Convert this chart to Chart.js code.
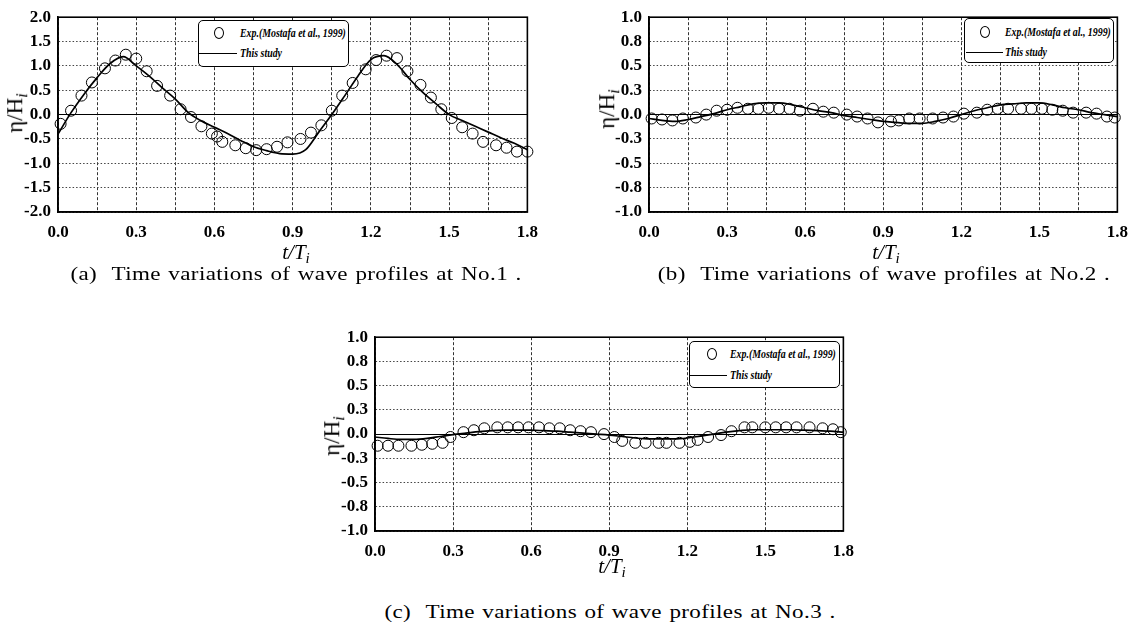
<!DOCTYPE html>
<html>
<head>
<meta charset="utf-8">
<script src="https://cdn.jsdelivr.net/npm/chart.js@4.4.1/dist/chart.umd.min.js"></script>
<style>
  html, body { margin: 0; padding: 0; background: #fff; }
  #page { position: relative; width: 1144px; height: 627px; overflow: hidden; font-family: "Liberation Serif", serif; color: #000; }
  canvas { position: absolute; }
  .lbl { position: absolute; transform: translate(-50%, -50%); white-space: nowrap; line-height: 1; }
  .ytitle { font-size: 23px; transform: translate(-50%, -50%) rotate(-90deg); }
  .xtitle { font-size: 21px; font-style: italic; }
  .lbl sub { font-size: 72%; vertical-align: -0.3em; font-style: italic; }
  .caption { font-size: 18px; letter-spacing: 0.3px; word-spacing: 1px; transform: translate(-50%, -50%) scaleX(1.28); }
  .lgbox { position: absolute; border: 1px solid #000; border-radius: 5px; background: #fff; box-sizing: border-box; }
  .lgmk { position: absolute; width: 8px; height: 10px; border: 1px solid #000; border-radius: 50%; transform: translate(-50%, -50%); }
  .lgln { position: absolute; height: 0; border-top: 1.5px solid #000; }
  .lgtx { position: absolute; font-style: italic; font-weight: bold; font-size: 12.5px; line-height: 1; white-space: nowrap;
          transform-origin: left center; transform: translateY(-50%) scaleX(0.79); }
</style>
</head>
<body>
<div id="page">
  <canvas id="chartA" width="548" height="245" style="left:0px;top:0px"></canvas>
  <canvas id="chartB" width="546" height="245" style="left:592px;top:0px"></canvas>
  <canvas id="chartC" width="547" height="245" style="left:317px;top:320px"></canvas>

  <div class="lbl ytitle" style="left:17px;top:113px">η/H<sub>i</sub></div>
  <div class="lbl xtitle" style="left:296px;top:254px">t/T<sub>i</sub></div>
  <div class="lbl caption" style="left:296px;top:274px">(a)&nbsp; Time variations of wave profiles at No.1 .</div>

  <div class="lbl ytitle" style="left:609px;top:109px">η/H<sub>i</sub></div>
  <div class="lbl xtitle" style="left:886px;top:254px">t/T<sub>i</sub></div>
  <div class="lbl caption" style="left:884px;top:274px">(b)&nbsp; Time variations of wave profiles at No.2 .</div>

  <div class="lbl ytitle" style="left:334px;top:436px">η/H<sub>i</sub></div>
  <div class="lbl xtitle" style="left:612px;top:568px">t/T<sub>i</sub></div>
  <div class="lbl caption" style="left:610px;top:612px">(c)&nbsp; Time variations of wave profiles at No.3 .</div>
</div>

<script>
// ---- measured points (Exp. Mostafa et al., 1999) ----
const expTimeA = [0.01,0.05,0.09,0.13,0.18,0.22,0.26,0.30,0.34,0.38,0.43,0.47,0.51,0.55,0.59,0.61,0.63,0.68,0.72,0.76,0.80,0.84,0.88,0.93,0.97,1.01,1.05,1.09,1.13,1.18,1.22,1.26,1.30,1.34,1.39,1.43,1.47,1.51,1.55,1.59,1.63,1.68,1.72,1.76,1.80];
const expEtaA  = [-0.19,0.08,0.39,0.66,0.95,1.11,1.23,1.15,0.89,0.59,0.39,0.11,-0.05,-0.24,-0.39,-0.45,-0.56,-0.63,-0.69,-0.73,-0.71,-0.66,-0.57,-0.50,-0.37,-0.22,0.08,0.39,0.65,0.93,1.12,1.21,1.16,0.89,0.61,0.35,0.11,-0.07,-0.26,-0.39,-0.56,-0.63,-0.68,-0.76,-0.76];

const expTimeB = [0.01,0.05,0.09,0.13,0.18,0.22,0.26,0.30,0.34,0.38,0.42,0.46,0.50,0.54,0.58,0.63,0.67,0.71,0.76,0.80,0.84,0.88,0.93,0.96,1.00,1.04,1.09,1.13,1.17,1.21,1.26,1.30,1.34,1.38,1.43,1.47,1.51,1.55,1.59,1.63,1.68,1.72,1.76,1.79];
const expEtaB  = [-0.04,-0.05,-0.06,-0.04,-0.03,0.00,0.04,0.05,0.07,0.06,0.06,0.07,0.06,0.06,0.04,0.06,0.03,0.02,0.00,-0.02,-0.04,-0.08,-0.07,-0.06,-0.04,-0.04,-0.04,-0.03,-0.02,0.01,0.02,0.05,0.06,0.06,0.06,0.06,0.06,0.05,0.04,0.02,0.02,0.01,-0.02,-0.03];

const expTimeC = [0.01,0.05,0.09,0.14,0.18,0.22,0.26,0.29,0.34,0.38,0.42,0.47,0.51,0.55,0.59,0.63,0.67,0.71,0.75,0.79,0.83,0.88,0.92,0.95,1.00,1.04,1.09,1.12,1.17,1.21,1.24,1.28,1.33,1.37,1.42,1.45,1.50,1.54,1.58,1.62,1.67,1.72,1.76,1.79];
const expEtaC  = [-0.12,-0.12,-0.12,-0.12,-0.11,-0.10,-0.09,-0.03,0.02,0.04,0.06,0.07,0.07,0.07,0.07,0.07,0.06,0.06,0.04,0.03,0.02,0.00,-0.03,-0.07,-0.09,-0.09,-0.09,-0.09,-0.09,-0.08,-0.06,-0.03,-0.01,0.03,0.07,0.07,0.07,0.07,0.07,0.07,0.07,0.06,0.05,0.02];

// ---- computed curve (This study) ----
const simTime = [0,0.05,0.1,0.15,0.2,0.25,0.3,0.35,0.4,0.45,0.5,0.55,0.6,0.65,0.7,0.75,0.8,0.85,0.9,0.95,1.0,1.05,1.1,1.15,1.2,1.25,1.3,1.35,1.4,1.45,1.5,1.55,1.6,1.65,1.7,1.75,1.8];
const simEtaA = [-0.40,0.04,0.42,0.76,1.05,1.19,1.00,0.79,0.55,0.32,0.04,-0.13,-0.26,-0.39,-0.53,-0.66,-0.74,-0.80,-0.81,-0.72,-0.36,0.00,0.39,0.79,1.13,1.21,1.03,0.72,0.45,0.22,0.00,-0.12,-0.24,-0.36,-0.48,-0.59,-0.72];
const simEtaB = [-0.04,-0.06,-0.07,-0.05,-0.02,0.01,0.05,0.08,0.11,0.12,0.12,0.10,0.07,0.04,0.02,-0.01,-0.03,-0.05,-0.07,-0.08,-0.09,-0.09,-0.07,-0.04,0.00,0.04,0.07,0.10,0.11,0.12,0.12,0.10,0.07,0.05,0.02,0.00,-0.02];
const simEtaC = [-0.03,-0.045,-0.055,-0.055,-0.045,-0.025,-0.005,0.01,0.025,0.035,0.04,0.04,0.04,0.035,0.03,0.02,0.01,0.00,-0.01,-0.025,-0.04,-0.05,-0.05,-0.05,-0.04,-0.02,0.00,0.02,0.035,0.045,0.045,0.045,0.045,0.04,0.035,0.03,0.02];

// ---- ticks ----
const xTicksFine   = [0,0.15,0.3,0.45,0.6,0.75,0.9,1.05,1.2,1.35,1.5,1.65,1.8];
const xLabelsFine  = ['0.0','','0.3','','0.6','','0.9','','1.2','','1.5','','1.8'];
const xTicksCoarse = [0,0.3,0.6,0.9,1.2,1.5,1.8];
const xLabelsCoarse = ['0.0','0.3','0.6','0.9','1.2','1.5','1.8'];
const yTicksA  = [-2,-1.5,-1,-0.5,0,0.5,1,1.5,2];
const yLabelsA = ['-2.0','-1.5','-1.0','-0.5','0.0','0.5','1.0','1.5','2.0'];
const yTicksBC  = [-1,-0.75,-0.5,-0.25,0,0.25,0.5,0.75,1];
const yLabelsBC = ['-1.0','-0.8','-0.5','-0.3','0.0','0.3','0.5','0.8','1.0'];

const legendText = ['Exp.(Mostafa et al., 1999)', 'This study'];

const tickFont = { family: "'Liberation Serif', serif", size: 17, weight: 'bold' };

// plot frame on top of the grid
const frame = {
    id: 'frame',
    afterDraw(chart) {
        const { ctx, chartArea: a } = chart;
        ctx.save();
        ctx.strokeStyle = '#000';
        ctx.lineWidth = 1.6;
        ctx.strokeRect(a.left, a.top, a.right - a.left, a.bottom - a.top);
        ctx.restore();
    }
};

function toXY(xs, ys) {
    return xs.map((x, i) => ({ x: x, y: ys[i] }));
}

function makeChart(id, o) {
    return new Chart(document.getElementById(id), {
        type: 'scatter',
        data: {
            datasets: [
                { label: legendText[0], data: toXY(o.expT, o.expEta), pointStyle: 'circle', pointRadius: 5.5,
                  borderColor: '#000', borderWidth: 1, backgroundColor: 'rgba(0,0,0,0)', clip: false, order: 2 },
                { label: legendText[1], data: toXY(simTime, o.simEta), showLine: true, pointRadius: 0,
                  borderColor: '#000', borderWidth: 1.7, cubicInterpolationMode: 'monotone', order: 1 }
            ]
        },
        options: {
            responsive: false, animation: false, devicePixelRatio: 1,
            layout: { padding: { left: 0, right: 14, top: 15, bottom: 0 } },
            plugins: { legend: { display: false }, tooltip: { enabled: false } },
            scales: {
                x: {
                    type: 'linear', min: 0, max: 1.8,
                    afterBuildTicks: s => { s.ticks = o.xTicks.map(v => ({ value: v })); },
                    afterFit: s => { s.height = o.xAxisH; },
                    ticks: { autoSkip: false, maxRotation: 0, padding: 10, color: '#000', font: tickFont,
                             callback: (v, i) => o.xLabels[i] },
                    grid: { color: '#333', lineWidth: 1, drawTicks: false },
                    border: { display: true, color: '#000', width: 1.6, dash: [3, 2] }
                },
                y: {
                    type: 'linear', min: o.yTicks[0], max: o.yTicks[o.yTicks.length - 1],
                    afterBuildTicks: s => { s.ticks = o.yTicks.map(v => ({ value: v })); },
                    afterFit: s => { s.width = o.yAxisW; },
                    ticks: { autoSkip: false, padding: 7, color: '#000', font: tickFont,
                             callback: (v, i) => o.yLabels[i] },
                    grid: { color: c => (c.tick && c.tick.value === 0) ? '#000' : '#444', lineWidth: 1, drawTicks: false },
                    border: { display: true, color: '#000', width: 1.6,
                              dash: c => (c.tick && c.tick.value === 0) ? [] : [1.5, 2] }
                }
            }
        },
        plugins: [frame]
    });
}

makeChart('chartA', { expT: expTimeA, expEta: expEtaA, simEta: simEtaA, xTicks: xTicksFine, xLabels: xLabelsFine,
                      yTicks: yTicksA, yLabels: yLabelsA, yAxisW: 58, xAxisH: 33 });
makeChart('chartB', { expT: expTimeB, expEta: expEtaB, simEta: simEtaB, xTicks: xTicksFine, xLabels: xLabelsFine,
                      yTicks: yTicksBC, yLabels: yLabelsBC, yAxisW: 57, xAxisH: 33 });
makeChart('chartC', { expT: expTimeC, expEta: expEtaC, simEta: simEtaC, xTicks: xTicksCoarse, xLabels: xLabelsCoarse,
                      yTicks: yTicksBC, yLabels: yLabelsBC, yAxisW: 58, xAxisH: 34 });

// boxed legends inside each plot
function addLegend(box, mk, ln, textX, row1, row2) {
    const page = document.getElementById('page');
    const add = (cls, css, text) => {
        const el = document.createElement('div');
        el.className = cls;
        Object.assign(el.style, css);
        if (text) el.textContent = text;
        page.appendChild(el);
    };
    add('lgbox', { left: box[0] + 'px', top: box[1] + 'px', width: box[2] + 'px', height: box[3] + 'px' });
    add('lgmk', { left: mk + 'px', top: row1 + 'px' });
    add('lgtx', { left: textX + 'px', top: row1 + 'px' }, legendText[0]);
    add('lgln', { left: ln[0] + 'px', width: ln[1] + 'px', top: row2 + 'px' });
    add('lgtx', { left: textX + 'px', top: row2 + 'px' }, legendText[1]);
}

addLegend([198, 20, 151, 47], 219, [199, 38], 240, 33, 53);
addLegend([964, 18, 150, 45], 985, [966, 37], 1005, 32, 52);
addLegend([689, 341, 151, 47], 712, [690, 37], 730, 354, 375);
</script>
</body>
</html>
